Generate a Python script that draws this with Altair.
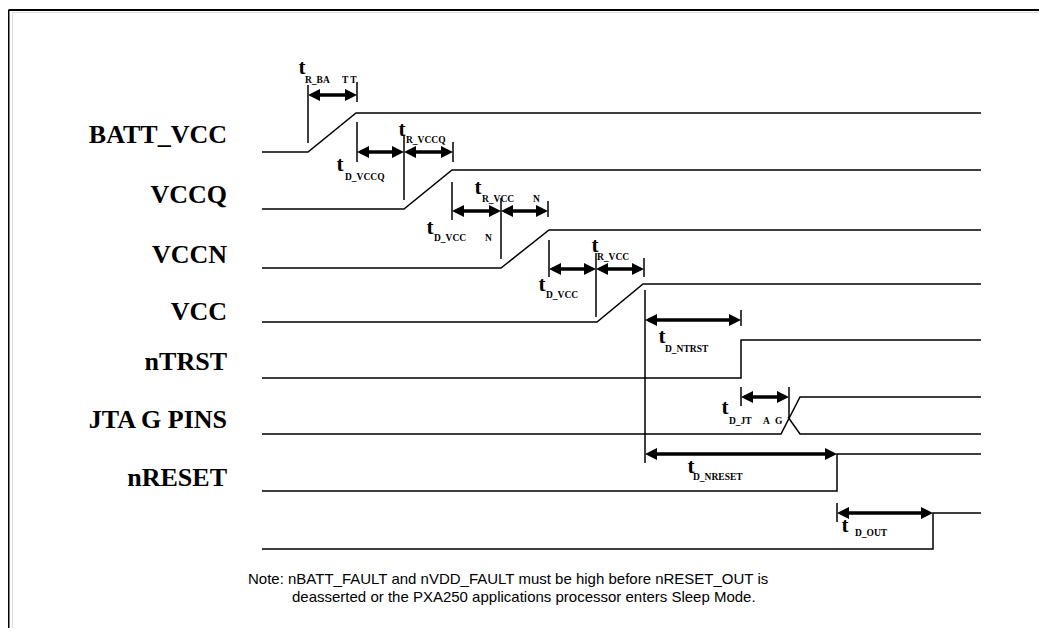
import altair as alt
import pandas as pd

# ---------------- data (diagram units = reference pixels) ----------------
label_text = ["BATT_VCC", "VCCQ", "VCCN", "VCC", "nTRST", "JTA G PINS", "nRESET"]
label_y = [135, 195, 255, 312, 362, 420, 478]

row_low = [152, 209, 268, 322, 378, 434, 491, 549]
row_high = [113, 170, 230, 284, 340, 397, 454, 513]
rise_start = [308, 404, 501, 597, 741, 781, 837, 933]
rise_end = [356, 452, 549, 643, 741, 800, 837, 933]
t_begin, t_finish = 262, 981
jtag_cross = [788, 417, 800, 434]  # falling half of the JTAG "X"

arrow_x1 = [308, 357, 404, 452, 501, 549, 596, 645, 741, 645, 837]
arrow_x2 = [357, 404, 453, 501, 548, 596, 644, 741, 789, 837, 933]
arrow_y = [95, 152, 152, 211, 211, 269, 269, 320, 397, 454, 513]

tick_x = [308, 357, 357, 404, 453, 452, 501, 548, 549, 596, 644, 645, 741, 741, 789, 837]
tick_y1 = [85, 82, 122, 135, 142, 182, 198, 201, 240, 253, 258, 290, 310, 387, 387, 503]
tick_y2 = [143, 102, 162, 200, 162, 220, 259, 217, 277, 317, 277, 463, 326, 406, 417, 522]

t_x = [302, 402, 340, 478, 430, 595, 542, 662, 725, 691, 845]
t_y = [68, 130, 165, 188, 228, 246, 285, 337, 408, 467, 526]

sub_text = ["R_BA", "T T", "R_VCCQ", "D_VCCQ", "R_VCC", "N", "D_VCC", "N",
            "R_VCC", "D_VCC", "D_NTRST", "D_JT", "A", "G", "D_NRESET", "D_OUT"]
sub_x = [305, 342, 406, 345, 482, 533, 434, 485, 597, 546, 665, 729, 763, 775, 693, 855]
sub_y = [80, 80, 140, 177, 199, 199, 238, 238, 257, 295, 349, 421, 421, 421, 477, 533]

note_lines = ["Note: nBATT_FAULT and nVDD_FAULT must be high before nRESET_OUT is",
              "deasserted or the PXA250 applications processor enters Sleep Mode."]
note_x = [248, 292]
note_y = [579, 597]

# ---------------- build tables ----------------
wave_rows = []
for i in range(len(row_low)):
    pts = [(t_begin, row_low[i]), (rise_start[i], row_low[i]),
           (rise_end[i], row_high[i]), (t_finish, row_high[i])]
    for k, (px, py) in enumerate(pts):
        wave_rows.append({"seg": f"s{i}", "o": k, "x": px, "y": py})
for k, (px, py) in enumerate([(jtag_cross[0], jtag_cross[1]), (jtag_cross[2], jtag_cross[3]),
                              (t_finish, jtag_cross[3])]):
    wave_rows.append({"seg": "jx", "o": k, "x": px, "y": py})
wave_df = pd.DataFrame(wave_rows)

arrow_df = pd.DataFrame({"x1": arrow_x1, "x2": arrow_x2, "y": arrow_y})
arrow_df["xs1"] = arrow_df["x1"] + 8
arrow_df["xs2"] = arrow_df["x2"] - 8
head_rows = []
for a, b, yy in zip(arrow_x1, arrow_x2, arrow_y):
    head_rows.append({"x": a, "y": yy, "shape": "M0,0L1,-0.5L1,0.5Z"})
    head_rows.append({"x": b, "y": yy, "shape": "M0,0L-1,-0.5L-1,0.5Z"})
head_df = pd.DataFrame(head_rows)

tick_df = pd.DataFrame({"x": tick_x, "y1": tick_y1, "y2": tick_y2})
t_df = pd.DataFrame({"x": t_x, "y": t_y, "txt": ["t"] * len(t_x)})
sub_df = pd.DataFrame({"x": sub_x, "y": sub_y, "txt": sub_text})
label_df = pd.DataFrame({"x": [227] * len(label_text), "y": label_y, "txt": label_text})
note_df = pd.DataFrame({"x": note_x, "y": note_y, "txt": note_lines})
frame_df = pd.DataFrame({"x": [8.5, 8.5], "x2": [8.5, 1039], "y": [10, 10], "y2": [628, 10]})

XMIN, XMAX, YMIN, YMAX = 12, 1039, 12, 628
xs = alt.Scale(domain=[XMIN, XMAX], nice=False, zero=False)
ys = alt.Scale(domain=[YMIN, YMAX], nice=False, zero=False, reverse=True)

def X(f):
    return alt.X(f"{f}:Q", scale=xs, axis=None)

def Y(f):
    return alt.Y(f"{f}:Q", scale=ys, axis=None)

SERIF = "Liberation Serif"

frame = alt.Chart(frame_df).mark_rule(color="black", strokeWidth=2).encode(
    x=X("x"), x2="x2:Q", y=Y("y"), y2="y2:Q")

waves = alt.Chart(wave_df).mark_line(color="black", strokeWidth=1.5, strokeJoin="miter").encode(
    x=X("x"), y=Y("y"), detail="seg:N", order="o:Q")

ticks = alt.Chart(tick_df).mark_rule(color="black", strokeWidth=1.5).encode(
    x=X("x"), y=Y("y1"), y2="y2:Q")

shafts = alt.Chart(arrow_df).mark_rule(color="black", strokeWidth=3.5).encode(
    x=X("xs1"), x2="xs2:Q", y=Y("y"))

heads = alt.Chart(head_df).mark_point(filled=True, color="black", size=576, opacity=1,
                                      strokeWidth=0).encode(
    x=X("x"), y=Y("y"), shape=alt.Shape("shape:N", scale=None))

t_text = alt.Chart(t_df).mark_text(font=SERIF, fontWeight="bold", fontSize=21,
                                   align="center", baseline="middle", color="black").encode(
    x=X("x"), y=Y("y"), text="txt:N")

sub_txt = alt.Chart(sub_df).mark_text(font=SERIF, fontWeight="bold", fontSize=9.5,
                                      align="left", baseline="middle", color="black").encode(
    x=X("x"), y=Y("y"), text="txt:N")

labels = alt.Chart(label_df).mark_text(font=SERIF, fontWeight="bold", fontSize=26,
                                       align="right", baseline="middle", color="black").encode(
    x=X("x"), y=Y("y"), text="txt:N")

notes = alt.Chart(note_df).mark_text(font="Liberation Sans", fontSize=15,
                                     align="left", baseline="middle", color="black").encode(
    x=X("x"), y=Y("y"), text="txt:N")

chart = alt.layer(frame, waves, ticks, shafts, heads, t_text, sub_txt, labels, notes).properties(
    width=XMAX - XMIN, height=YMAX - YMIN,
    padding={"left": 4, "top": 4, "right": 0, "bottom": 0},
    autosize="none",
).configure_view(stroke=None).configure(background="white")

chart.save("out.html", embed_options={"renderer": "svg", "actions": False})
